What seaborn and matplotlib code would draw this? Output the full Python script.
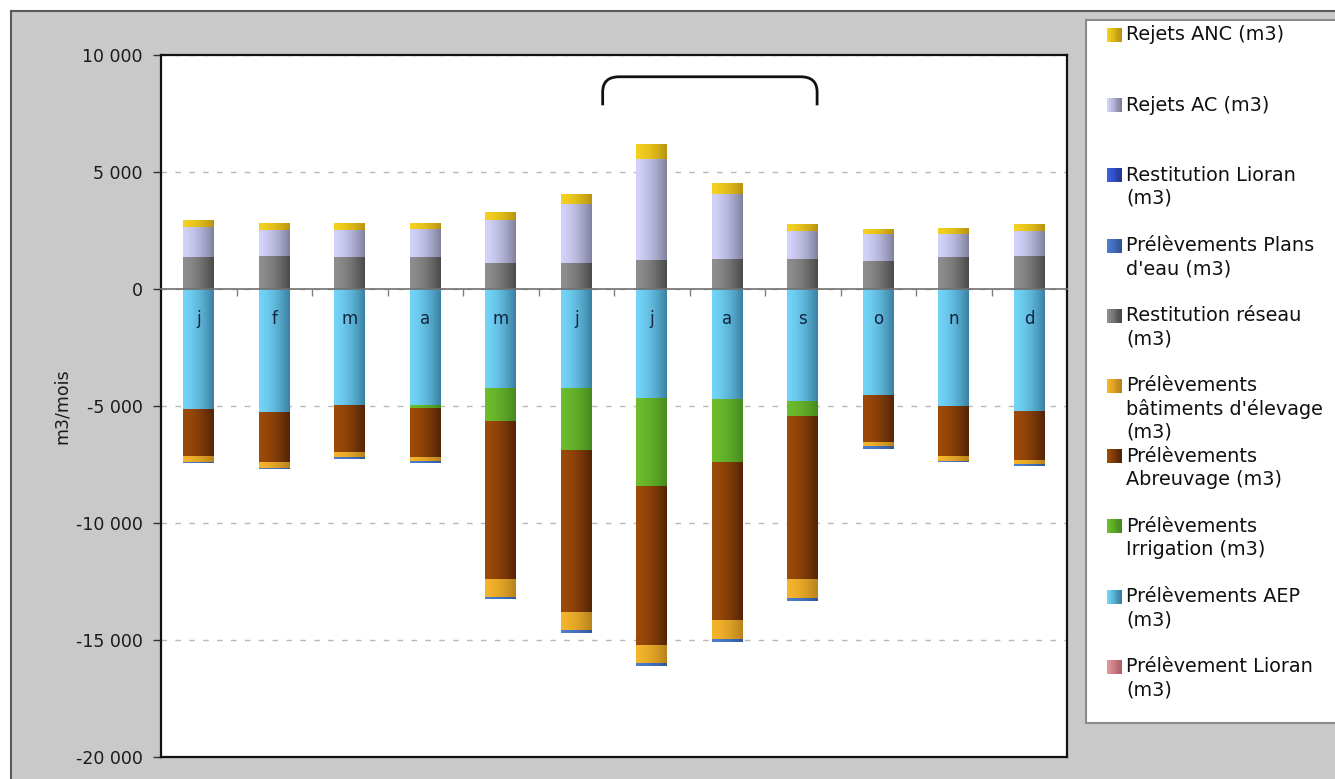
import numpy as np
import pandas as pd
import matplotlib
matplotlib.use("Agg")
import matplotlib.pyplot as plt
import seaborn as sns
from matplotlib.patches import Rectangle, PathPatch
from matplotlib.path import Path
from matplotlib.lines import Line2D
from matplotlib.colors import to_rgb
from matplotlib.ticker import FuncFormatter
from matplotlib.transforms import Affine2D

# ---- données mensuelles (m3/mois) ----
mois = ['j', 'f', 'm', 'a', 'm', 'j', 'j', 'a', 's', 'o', 'n', 'd']

# prélèvements (tracés en négatif)
prel_lioran = [0, 0, 0, 0, 0, 0, 0, 0, 0, 0, 0, 0]
prel_aep = [5110, 5270, 4960, 4970, 4220, 4220, 4640, 4690, 4790, 4520, 4990, 5200]
prel_irrigation = [0, 0, 0, 100, 1440, 2650, 3760, 2690, 620, 0, 0, 0]
prel_abreuvage = [2010, 2120, 2010, 2100, 6720, 6950, 6800, 6750, 6970, 2030, 2130, 2110]
prel_batiments = [260, 270, 200, 200, 800, 740, 780, 810, 840, 180, 220, 170]
prel_plans_eau = [60, 40, 100, 80, 80, 140, 120, 130, 100, 100, 50, 70]

# restitutions et rejets (tracés en positif)
restit_reseau = [1340, 1380, 1340, 1340, 1110, 1110, 1230, 1280, 1280, 1170, 1340, 1380]
restit_lioran = [0, 0, 0, 0, 0, 0, 0, 0, 0, 0, 0, 0]
rejets_ac = [1280, 1140, 1180, 1210, 1810, 2510, 4300, 2740, 1180, 1170, 1000, 1090]
rejets_anc = [300, 300, 290, 260, 370, 430, 630, 500, 300, 210, 260, 270]

# dégradés (gauche clair -> droite sombre)
couleurs = {
    'anc': ('#F4D020', '#B89410'),
    'ac': ('#D2D2FA', '#80809E'),
    'rest_lioran': ('#3C5FE0', '#22389A'),
    'plans': ('#4C7CD0', '#30569A'),
    'reseau': ('#8E8E8E', '#4A4A4A'),
    'bat': ('#F4B42C', '#B8821C'),
    'abr': ('#9E4A08', '#522406'),
    'irr': ('#6CBC2C', '#468A1E'),
    'aep': ('#72D4F8', '#3A80A2'),
    'prel_lioran': ('#E0949C', '#B06068'),
}

legende = [
    ('anc', ['Rejets ANC (m3)']),
    ('ac', ['Rejets AC (m3)']),
    ('rest_lioran', ['Restitution Lioran', '(m3)']),
    ('plans', ['Prélèvements Plans', "d'eau (m3)"]),
    ('reseau', ['Restitution réseau', '(m3)']),
    ('bat', ['Prélèvements', "bâtiments d'élevage", '(m3)']),
    ('abr', ['Prélèvements', 'Abreuvage (m3)']),
    ('irr', ['Prélèvements', 'Irrigation (m3)']),
    ('aep', ['Prélèvements AEP', '(m3)']),
    ('prel_lioran', ['Prélèvement Lioran', '(m3)']),
]

W, H = 1335, 779
plt.rcParams['font.family'] = ['DejaVu Sans']
fig = plt.figure(figsize=(W / 100, H / 100), dpi=100)
fig.patch.set_facecolor('white')

# repère en pixels (origine en haut à gauche)
PX = Affine2D().scale(1 / W, -1 / H).translate(0, 1) + fig.transFigure

# cadre gris du graphique
fig.add_artist(Rectangle((11, 11), W + 20, H + 20, transform=PX,
                         facecolor='#C9C9C9', edgecolor='#5A5A5A', lw=1.5, zorder=0))

ax = fig.add_axes([161 / W, 22 / H, (1067 - 161) / W, (757 - 55) / H])
ax.set_facecolor('white')
ax.set_axisbelow(True)

idx = list(range(len(mois)))


def gradient_img(key):
    cl = np.array(to_rgb(couleurs[key][0]))
    cr = np.array(to_rgb(couleurs[key][1]))
    t = (np.linspace(0, 1, 64) ** 1.6)[None, :, None]
    return cl[None, None, :] * (1 - t) + cr[None, None, :] * t


layer = [0]


def couche(values, key):
    n0 = len(ax.patches)
    df = pd.DataFrame({'mois_idx': idx, 'valeur': values})
    sns.barplot(data=df, x='mois_idx', y='valeur', color=couleurs[key][0],
                width=0.41, saturation=1, errorbar=None, ax=ax)
    img = gradient_img(key)
    z = 3 + layer[0] * 0.1
    layer[0] += 1
    for p in ax.patches[n0:]:
        p.set_facecolor('none')
        p.set_edgecolor('none')
        h = p.get_height()
        if h == 0:
            continue
        x0, y0, w = p.get_x(), p.get_y(), p.get_width()
        ax.imshow(img, extent=(x0, x0 + w, min(y0, y0 + h), max(y0, y0 + h)),
                  aspect='auto', interpolation='bilinear', zorder=z)


# empilement négatif : le plus profond d'abord
c0 = -np.array(prel_lioran, dtype=float)
c1 = c0 - np.array(prel_aep)
c2 = c1 - np.array(prel_irrigation)
c3 = c2 - np.array(prel_abreuvage)
c4 = c3 - np.array(prel_batiments)
c5 = c4 - np.array(prel_plans_eau)
for vals, key in [(c5, 'plans'), (c4, 'bat'), (c3, 'abr'), (c2, 'irr'), (c1, 'aep'), (c0, 'prel_lioran')]:
    couche(vals, key)

# empilement positif
p1 = np.array(restit_reseau, dtype=float)
p2 = p1 + np.array(restit_lioran)
p3 = p2 + np.array(rejets_ac)
p4 = p3 + np.array(rejets_anc)
for vals, key in [(p4, 'anc'), (p3, 'ac'), (p2, 'rest_lioran'), (p1, 'reseau')]:
    couche(vals, key)

ax.set_xlim(-0.5, len(mois) - 0.5)
ax.set_ylim(-20000, 10000)

# axe des ordonnées
ax.set_yticks(np.arange(-20000, 10001, 5000))
ax.yaxis.set_major_formatter(FuncFormatter(lambda v, _: f"{int(v):,}".replace(',', ' ')))
ax.tick_params(axis='y', direction='out', length=6, width=1, color='#333333',
               labelsize=12.5, labelcolor='#1A1A1A', pad=7)
ax.set_ylabel('m3/mois', fontsize=12.5, color='#1A1A1A', labelpad=4)
ax.set_xlabel('')
ax.yaxis.grid(True, linestyle=(0, (4, 6)), color='#B8B8B8', lw=1)
ax.xaxis.grid(False)

# axe des abscisses sur la ligne zéro, tracé par-dessus les barres
ax.spines['bottom'].set_position(('data', 0))
ax.spines['bottom'].set_color('#707070')
ax.spines['bottom'].set_linewidth(1.2)
ax.spines['bottom'].set_zorder(12)
ax.set_xticks([i + 0.5 for i in idx[:-1]])
ax.set_xticklabels([])
ax.tick_params(axis='x', direction='out', length=5, width=1, color='#808080')
for s in ['left', 'top', 'right']:
    ax.spines[s].set_color('#111111')
    ax.spines[s].set_linewidth(1.6)
ax.add_line(Line2D([0, 1], [0, 0], transform=ax.transAxes, color='#111111',
                   lw=1.6, clip_on=False, zorder=5))

# initiales des mois
for i, m in zip(idx, mois):
    ax.text(i, -1300, m, ha='center', va='center', fontsize=12,
            color='#15233F', zorder=20)

# accolade au-dessus de la période estivale
xl, xr, yb, yt, rx, ry = 5.35, 8.19, 7850, 9070, 0.22, 650
verts = [(xl, yb), (xl, yt - ry), (xl, yt), (xl + rx, yt), (xr - rx, yt),
         (xr, yt), (xr, yt - ry), (xr, yb)]
codes = [Path.MOVETO, Path.LINETO, Path.CURVE3, Path.CURVE3, Path.LINETO,
         Path.CURVE3, Path.CURVE3, Path.LINETO]
ax.add_patch(PathPatch(Path(verts, codes), facecolor='none', edgecolor='#111111',
                       lw=2, zorder=15, clip_on=False))

# légende
fig.add_artist(Rectangle((1086, 20), 300, 703, transform=PX, facecolor='white',
                         edgecolor='#8A8A8A', lw=1.5, zorder=1))
pitch = 70.2
for k, (key, lignes) in enumerate(legende):
    yc = 35 + pitch * k
    cl = np.array(to_rgb(couleurs[key][0]))
    cr = np.array(to_rgb(couleurs[key][1]))
    n = 8
    for s in range(n):
        t = s / (n - 1)
        col = cl * (1 - t) + cr * t
        fig.add_artist(Rectangle((1107 + s * 15 / n, yc - 7), 15 / n + 0.3, 14,
                                 transform=PX, facecolor=col, edgecolor='none', zorder=2))
    for j, txt in enumerate(lignes):
        fig.text(1126, yc + 23 * j, txt, transform=PX, ha='left', va='center',
                 fontsize=13.9, color='#111111', zorder=3)

fig.savefig('out.png', dpi=100, facecolor='white')
